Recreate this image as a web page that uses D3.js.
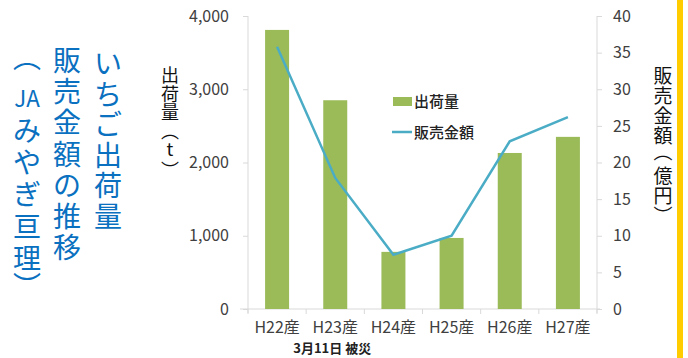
<!DOCTYPE html>
<html>
<head>
<meta charset="utf-8">
<script src="https://cdn.jsdelivr.net/npm/d3@7"></script>
<style>
  body { margin: 0; background: #fff; }
  svg text { font-family: "Noto Sans CJK JP", "Noto Sans", sans-serif; }
</style>
</head>
<body>
<svg id="chart" width="688" height="358"></svg>
<script>
// data
var years = ["H22産", "H23産", "H24産", "H25産", "H26産", "H27産"];
var shipments = [3810, 2850, 780, 970, 2130, 2350];   // t
var sales = [35.8, 17.9, 7.4, 10.0, 22.9, 26.2];        // 億円
var leftTicks = [0, 1000, 2000, 3000, 4000];
var rightTicks = [0, 5, 10, 15, 20, 25, 30, 35, 40];
var titleCols = [
    ["い", "ち", "ご", "出", "荷", "量"],
    ["販", "売", "金", "額", "の", "推", "移"],
    ["︵", "JA", "み", "や", "ぎ", "亘", "理", "︶"]
];
var leftTitle = ["出", "荷", "量", "︵", "t", "︶"];
var rightTitle = ["販", "売", "金", "額", "︵", "億", "円", "︶"];

var svg = d3.select("#chart");
// note: "top" is a reserved window prop, so use plot* names
var plotL = 248, plotR = 597, plotT = 16, plotB = 309;

var x = d3.scaleBand().domain(years).range([plotL, plotR]);
var yL = d3.scaleLinear().domain([0, 4000]).range([plotB, plotT]);
var yR = d3.scaleLinear().domain([0, 40]).range([plotB, plotT]);

var axisColor = "#d9d9d9";
var labelColor = "#404040";

// left axis
var gl = svg.append("g").attr("transform", "translate(" + plotL + ",0)")
    .call(d3.axisLeft(yL).tickValues(leftTicks).tickSize(5).tickPadding(14)
        .tickFormat(d3.format(",")));
// right axis
var gr = svg.append("g").attr("transform", "translate(" + plotR + ",0)")
    .call(d3.axisRight(yR).tickValues(rightTicks).tickSize(5).tickPadding(11));
// x axis
var gx = svg.append("g").attr("transform", "translate(0," + plotB + ")")
    .call(d3.axisBottom(x).tickSize(0).tickPadding(13));

[gl, gr, gx].forEach(function (g) {
    g.select(".domain").attr("stroke", axisColor);
    g.selectAll(".tick line").attr("stroke", axisColor);
    g.selectAll("text").attr("fill", labelColor).style("font-size", "16px");
});
gl.select(".domain").attr("d", "M0," + plotT + "V" + (plotB + 4));
gr.select(".domain").attr("d", "M0," + plotT + "V" + (plotB + 4));
gx.select(".domain").attr("d", "M" + (plotL - 8) + ",0H" + (plotR + 3));

// category boundary ticks on x axis
svg.selectAll(".xtick").data(d3.range(years.length + 1)).enter().append("line")
    .attr("x1", function (i) { return plotL + i * x.step(); })
    .attr("x2", function (i) { return plotL + i * x.step(); })
    .attr("y1", plotB).attr("y2", plotB + 5)
    .attr("stroke", axisColor);

// bars
var bw = 24;
svg.selectAll(".bar").data(shipments).enter().append("rect")
    .attr("x", function (d, i) { return x(years[i]) + x.bandwidth() / 2 - bw / 2; })
    .attr("y", function (d) { return yL(d); })
    .attr("width", bw)
    .attr("height", function (d) { return plotB - yL(d); })
    .attr("fill", "#9bbb59");

// sales line
var line = d3.line()
    .x(function (d, i) { return x(years[i]) + x.bandwidth() / 2; })
    .y(function (d) { return yR(d); });
svg.append("path").datum(sales)
    .attr("d", line)
    .attr("fill", "none")
    .attr("stroke", "#4bacc6")
    .attr("stroke-width", 2.5);

// note under H23
svg.append("text")
    .attr("x", x("H23産") + x.bandwidth() / 2 - 3).attr("y", 353)
    .attr("text-anchor", "middle")
    .style("font-size", "13px").style("font-weight", "bold")
    .attr("fill", "#222")
    .text("3月11日 被災");

// legend
svg.append("rect").attr("x", 393).attr("y", 97).attr("width", 19).attr("height", 9)
    .attr("fill", "#9bbb59");
svg.append("text").attr("x", 414).attr("y", 107).style("font-size", "15px")
    .attr("fill", "#222").style("font-weight", "500").text("出荷量");
svg.append("line").attr("x1", 392).attr("x2", 412).attr("y1", 132).attr("y2", 132)
    .attr("stroke", "#4bacc6").attr("stroke-width", 2.5);
svg.append("text").attr("x", 414).attr("y", 138).style("font-size", "15px")
    .attr("fill", "#222").style("font-weight", "500").text("販売金額");

// vertical text: one cell per char (vertical-form parens from the font)
function vtext(chars, cx, y0, step, size, color, openShift, closeShift) {
    chars.forEach(function (c, i) {
        var cy = y0 + i * step;
        if (c === "︵") cy += openShift;
        if (c === "︶") cy += closeShift;
        var t = svg.append("text")
            .attr("x", cx).attr("y", cy)
            .attr("text-anchor", "middle")
            .attr("dominant-baseline", "central")
            .style("font-size", size + "px")
            .attr("fill", color)
            .text(c);
        if (c === "JA") {
            t.style("font-size", (size * 0.8) + "px");
        }
    });
}

// axis titles
vtext(leftTitle, 170, 74, 18.5, 18, "#111", 0, 2);
vtext(rightTitle, 663, 74, 20, 19, "#111", -4, 0);

// big blue title
var blue = "#0a70c0";
vtext(titleCols[0], 108, 62, 30.5, 28, blue, 0, 0);
vtext(titleCols[1], 67, 59, 31.2, 28, blue, 0, 0);
vtext(titleCols[2], 27, 65, 32, 28, blue, -9, -4);

// yellow strip at right edge
svg.append("rect").attr("x", 677).attr("y", 0).attr("width", 6).attr("height", 358)
    .attr("fill", "#ffcc00");
</script>
</body>
</html>
